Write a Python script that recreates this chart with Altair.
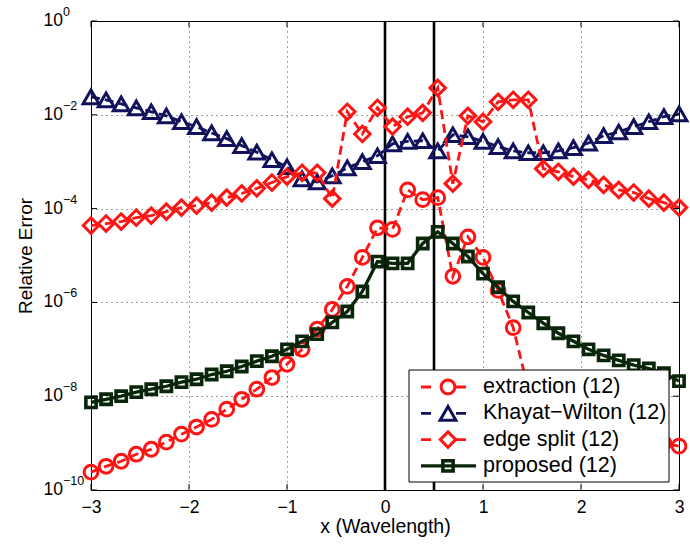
import altair as alt
import pandas as pd

FONT = "Liberation Sans"
W, H = 588, 469

# ---------------- data ----------------
x_vals = [-3.000, -2.846, -2.692, -2.538, -2.385, -2.231, -2.077, -1.923, -1.769, -1.615,
          -1.462, -1.308, -1.154, -1.000, -0.846, -0.692, -0.538, -0.385, -0.231, -0.077,
          0.077, 0.231, 0.385, 0.538, 0.692, 0.846, 1.000, 1.154, 1.308, 1.462,
          1.615, 1.769, 1.923, 2.077, 2.231, 2.385, 2.538, 2.692, 2.846, 3.000]

extraction = [2.4e-10, 3.2e-10, 4.1e-10, 5.8e-10, 7.4e-10, 1.05e-9, 1.55e-9, 2.2e-9, 3.2e-9, 5.3e-9,
              8.6e-9, 1.41e-8, 2.5e-8, 4.8e-8, 1.0e-7, 2.7e-7, 7.1e-7, 2.2e-6, 9.1e-6, 3.9e-5,
              3.6e-5, 2.5e-4, 1.55e-4, 1.71e-4, 3.6e-6, 2.5e-5, 9.1e-6, 1.8e-6, 2.9e-7, 1.4e-8,
              6.0e-9, 4.0e-9, 3.0e-9, 2.4e-9, 2.0e-9, 1.6e-9, 1.3e-9, 1.1e-9, 1.0e-9, 8.6e-10]

khayat_wilton = [2.41e-2, 2.09e-2, 1.71e-2, 1.41e-2, 1.16e-2, 9.5e-3, 7.1e-3, 5.6e-3, 4.1e-3, 3.1e-3,
                 2.2e-3, 1.6e-3, 1.1e-3, 7.8e-4, 4.3e-4, 3.7e-4, 5.0e-4, 7.4e-4, 1.0e-3, 1.34e-3,
                 2.4e-3, 2.7e-3, 2.8e-3, 1.7e-3, 3.75e-3, 3.4e-3, 2.7e-3, 2.1e-3, 1.7e-3, 1.55e-3,
                 1.55e-3, 1.7e-3, 2.0e-3, 2.5e-3, 3.6e-3, 4.3e-3, 5.6e-3, 7.1e-3, 9.1e-3, 1.05e-2]

edge_split = [4.35e-5, 4.8e-5, 5.3e-5, 6.4e-5, 7.1e-5, 8.6e-5, 1.05e-4, 1.16e-4, 1.34e-4, 1.71e-4,
              2.1e-4, 2.7e-4, 3.6e-4, 4.8e-4, 5.8e-4, 5.8e-4, 1.63e-4, 1.16e-2, 3.9e-3, 1.41e-2,
              5.6e-3, 9.1e-3, 1.1e-2, 3.75e-2, 3.4e-4, 9.5e-3, 7.1e-3, 1.89e-2, 2.09e-2, 2.09e-2,
              7.1e-4, 6.1e-4, 4.8e-4, 4.1e-4, 3.2e-4, 2.5e-4, 2.2e-4, 1.63e-4, 1.34e-4, 1.05e-4]

proposed = [7.4e-9, 8.6e-9, 1.0e-8, 1.22e-8, 1.41e-8, 1.63e-8, 2.0e-8, 2.3e-8, 2.9e-8, 3.4e-8,
            4.3e-8, 5.6e-8, 7.1e-8, 1.0e-7, 1.48e-7, 2.1e-7, 3.75e-7, 6.4e-7, 1.71e-6, 7.4e-6,
            6.8e-6, 6.8e-6, 1.8e-5, 3.2e-5, 1.8e-5, 9.5e-6, 4.1e-6, 2.1e-6, 1.05e-6, 6.1e-7,
            3.6e-7, 2.2e-7, 1.48e-7, 1.0e-7, 7.4e-8, 5.8e-8, 4.6e-8, 3.9e-8, 3.1e-8, 2.1e-8]

series_names = ["extraction (12)", "Khayat\u2212Wilton (12)", "edge split (12)", "proposed (12)"]
x_ticks = [-3, -2, -1, 0, 1, 2, 3]
y_tick_exponents = [0, -2, -4, -6, -8, -10]
marker_lines = [0.0, 0.5]

# ---------------- styles ----------------
RED = "#ff1414"
NAVY = "#12125c"
DKGREEN = "#0a260a"
styles = {
    series_names[0]: dict(color=RED, shape="circle", size=190, dash=[9, 5], lw=2.8, sw=3.0),
    series_names[1]: dict(color=NAVY, shape="triangle-up", size=250, dash=[9, 5], lw=2.8, sw=3.0),
    series_names[2]: dict(color=RED, shape="diamond", size=240, dash=[9, 5], lw=2.8, sw=3.0),
    series_names[3]: dict(color=DKGREEN, shape="square", size=105, dash=None, lw=3.3, sw=3.6),
}
series_values = [extraction, khayat_wilton, edge_split, proposed]

xscale = alt.Scale(domain=[-3, 3], nice=False, zero=False)
yscale = alt.Scale(type="log", domain=[1e-10, 1], nice=False)
y_tick_vals = [10.0 ** e for e in y_tick_exponents]

xaxis = alt.Axis(values=x_ticks, format="d", title="x (Wavelength)", ticks=False, domain=False,
                 grid=True, gridColor="#000", gridDash=[1, 4], gridWidth=1, gridOpacity=0.75,
                 labelFont=FONT, labelFontSize=17.5, labelColor="#000", labelPadding=8,
                 labelFlush=False, titleFont=FONT, titleFontSize=19.5, titleFontWeight="normal",
                 titleColor="#000", titlePadding=2)
yaxis = alt.Axis(values=y_tick_vals, labels=False, ticks=False, domain=False,
                 grid=True, gridColor="#000", gridDash=[1, 4], gridWidth=1, gridOpacity=0.75,
                 title="Relative Error", titleFont=FONT, titleFontSize=19,
                 titleFontWeight="normal", titleColor="#000", titlePadding=56)

X = lambda f="x:Q": alt.X(f, scale=xscale, axis=xaxis)
Y = lambda f="y:Q": alt.Y(f, scale=yscale, axis=yaxis)

layers = []

# vertical reference lines
layers.append(
    alt.Chart(pd.DataFrame({"x": marker_lines}))
    .mark_rule(color="black", strokeWidth=2.6)
    .encode(x=X())
)

# series
for name, vals in zip(series_names, series_values):
    st = styles[name]
    df = pd.DataFrame({"x": x_vals, "y": vals})
    line_kw = dict(color=st["color"], strokeWidth=st["lw"])
    if st["dash"]:
        line_kw["strokeDash"] = st["dash"]
    layers.append(alt.Chart(df).mark_line(**line_kw).encode(x=X(), y=Y()))
    layers.append(
        alt.Chart(df)
        .mark_point(shape=st["shape"], size=st["size"], filled=False, color=st["color"],
                    strokeWidth=st["sw"], opacity=1)
        .encode(x=X(), y=Y())
    )

# inward ticks
xt = pd.DataFrame({"x": x_ticks})
yt = pd.DataFrame({"y": y_tick_vals, "exp": [str(e).replace("-", "\u2212") for e in y_tick_exponents]})
layers.append(alt.Chart(xt).mark_rule(color="black", strokeWidth=1)
              .encode(x=X(), y=alt.value(H), y2=alt.value(H - 6)))
layers.append(alt.Chart(xt).mark_rule(color="black", strokeWidth=1)
              .encode(x=X(), y=alt.value(0), y2=alt.value(6)))
layers.append(alt.Chart(yt).mark_rule(color="black", strokeWidth=1)
              .encode(y=Y(), x=alt.value(0), x2=alt.value(6)))
layers.append(alt.Chart(yt).mark_rule(color="black", strokeWidth=1)
              .encode(y=Y(), x=alt.value(W), x2=alt.value(W - 6)))

# y tick labels as 10^n
layers.append(alt.Chart(yt).mark_text(align="right", baseline="middle", font=FONT, fontSize=17.5,
                                      color="black")
              .encode(y=Y(), x=alt.value(-28), text=alt.value("10")))
layers.append(alt.Chart(yt).mark_text(align="left", baseline="middle", font=FONT, fontSize=12.5,
                                      color="black", dy=-9)
              .encode(y=Y(), x=alt.value(-28), text="exp:N"))

# legend
leg = pd.DataFrame({"label": series_names, "row": list(range(len(series_names)))})
L, T, R, B = 318, 349, 578, 461
layers.append(alt.Chart(leg).transform_filter(alt.datum.row == 0)
              .mark_rect(fill="white", stroke="black", strokeWidth=1)
              .encode(x=alt.value(L), x2=alt.value(R), y=alt.value(T), y2=alt.value(B)))
for i, name in enumerate(series_names):
    st = styles[name]
    ry = T + 17 + i * 26.3
    base = alt.Chart(leg).transform_filter(alt.datum.row == i)
    rule_kw = dict(color=st["color"], strokeWidth=st["lw"])
    if st["dash"]:
        rule_kw["strokeDash"] = [10, 25]
    layers.append(base.mark_rule(**rule_kw)
                  .encode(x=alt.value(330), x2=alt.value(385), y=alt.value(ry)))
    layers.append(base.mark_point(shape=st["shape"], size=st["size"], filled=False,
                                  color=st["color"], opacity=1, strokeWidth=st["sw"])
                  .encode(x=alt.value(357), y=alt.value(ry)))
    layers.append(base.mark_text(align="left", baseline="middle", font=FONT, fontSize=21.5,
                                 color="black")
                  .encode(x=alt.value(392), y=alt.value(ry), text="label:N"))

chart = (
    alt.layer(*layers)
    .properties(width=W, height=H, background="white",
                padding={"left": 91, "top": 21, "right": 11, "bottom": 54},
                autosize=alt.AutoSizeParams(type="none"))
    .configure_view(stroke="black", strokeWidth=1)
)

chart.save("out.html", embed_options={"renderer": "svg", "actions": False})
